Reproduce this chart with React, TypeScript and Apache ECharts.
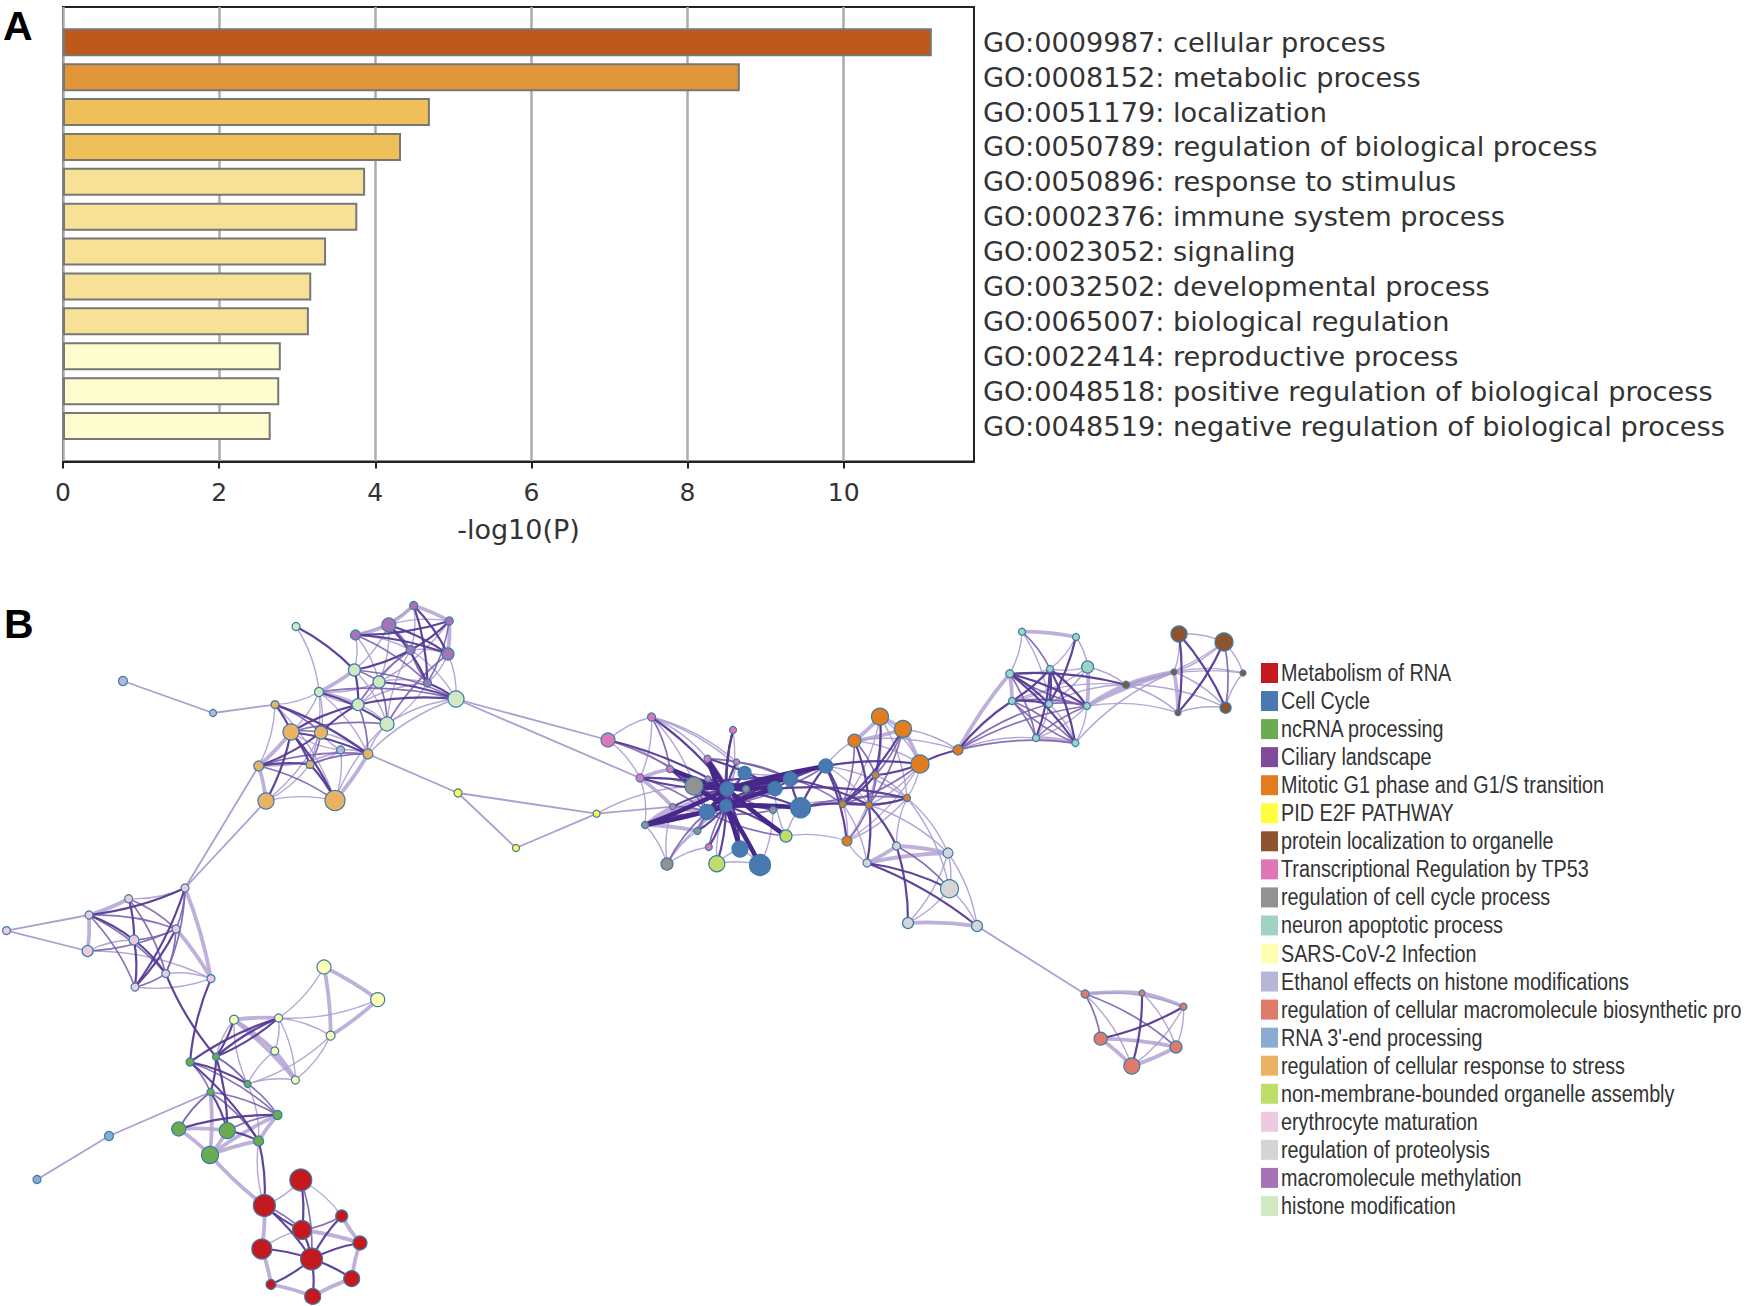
import React, { useEffect, useRef } from "react";
import * as echarts from "echarts";

const goTerms = [
  "GO:0009987: cellular process",
  "GO:0008152: metabolic process",
  "GO:0051179: localization",
  "GO:0050789: regulation of biological process",
  "GO:0050896: response to stimulus",
  "GO:0002376: immune system process",
  "GO:0023052: signaling",
  "GO:0032502: developmental process",
  "GO:0065007: biological regulation",
  "GO:0022414: reproductive process",
  "GO:0048518: positive regulation of biological process",
  "GO:0048519: negative regulation of biological process",
];
const goValues = [11.13, 8.67, 4.7, 4.33, 3.87, 3.77, 3.37, 3.18, 3.15, 2.79, 2.77, 2.66];
const goColors = ["#bd5a1b", "#e3953a", "#efc05a", "#efc05a", "#f6e196", "#f6e196", "#f6e196", "#f6e196", "#f6e196", "#fdfdd0", "#fdfdd0", "#fdfdd0"];
const xTicks = [0, 2, 4, 6, 8, 10];

const clusterNames = [
  "Metabolism of RNA", "Cell Cycle", "ncRNA processing", "Ciliary landscape",
  "Mitotic G1 phase and G1/S transition", "PID E2F PATHWAY", "protein localization to organelle",
  "Transcriptional Regulation by TP53", "regulation of cell cycle process", "neuron apoptotic process",
  "SARS-CoV-2 Infection", "Ethanol effects on histone modifications",
  "regulation of cellular macromolecule biosynthetic pro", "RNA 3'-end processing",
  "regulation of cellular response to stress", "non-membrane-bounded organelle assembly",
  "erythrocyte maturation", "regulation of proteolysis", "macromolecule methylation", "histone modification",
];
const clusterColors = [
  "#c4191e", "#4a78b0", "#6cab4f", "#7f4a9c", "#e37c1e", "#ffff40", "#8c5430", "#de76b8", "#929292", "#a1d3c5",
  "#ffffb3", "#b8b6d8", "#e07b6c", "#8aacd3", "#ecb264", "#bede67", "#efc9e0", "#d5d5d5", "#a674b4", "#d2e8c2",
];

// [x, y, diameter], per cluster (prefix, cluster index)
const redNodes = [[300.8,1180,22],[264.4,1205.5,22],[341.7,1216,12],[302,1230,19],[360,1243,14],[261.8,1249,20],[311.5,1259,22],[351.7,1278.6,16],[271,1284.5,10],[312.7,1296.4,16]];
const blueNodes = [[744.6,773,13],[727,789,14],[726,805.7,12],[707,812,15],[775,788.7,14],[790.4,779,14],[825.8,766,14],[800.5,807.7,20],[740,849,16],[760,865,21]];
const greenNodes = [[216,1056.7,7],[190,1062,8],[247.6,1084,7],[210.5,1092,7],[277.5,1115,9],[178.7,1129,14],[227.3,1130.6,16],[258.7,1141,10],[210,1155,17]];
const mitoticNodes = [[880,716.7,17],[903,729,17],[854.4,740.7,13],[920,764,18],[958,750,10],[875.5,775,7],[907,798,7],[842.6,804,7],[869,805,7],[847,841,10]];
const yellowNodes = [[458,793,8],[516,848,7],[596.6,813.7,7]];
const brownNodes = [[1179,634,16],[1224,642,18],[1126,684.7,7],[1174,672,6],[1178,712.7,6],[1225.6,707.7,11],[1243,673,6]];
const tp53Nodes = [[608,740,14],[651.5,717,8],[733,730,7],[707.5,758.7,7],[736.6,762,6],[670,769,7],[640,778,8],[708,779,6],[672.6,806.7,6],[708.8,847,7]];
const grayNodes = [[694,786,18],[746,789,7],[773,810,7],[645,825,7],[697.4,831,7],[667,864,12]];
const neuronNodes = [[1022,631.7,7],[1076,637,7],[1050,669,7],[1087.6,667,12],[1009.7,673.7,8],[1012,701,7],[1049,704,7],[1087,706,7],[1036,738,7],[1075.4,743,7]];
const sarsNodes = [[324,967,14],[377.7,999.6,14],[234,1019.7,9],[278.6,1018,8],[330.6,1035.7,9],[274.8,1051,8],[295.4,1080,8]];
const ethanolNodes = [[123,681,9],[213,713,7],[340.6,750,8]];
const biosynNodes = [[1085,994,8],[1142,993,6],[1183.5,1006.7,7],[1100.6,1038.7,13],[1176,1047,12],[1131.8,1066,16]];
const rna3Nodes = [[109,1136,9],[37,1179.5,8]];
const stressNodes = [[275,704.6,8],[291,732,16],[321,732.5,13],[258.7,766,10],[310,764.4,8],[368,754,10],[266,801,16],[335,800.5,20]];
const limeNodes = [[786,836,12],[716.8,863.7,16]];
const erythNodes = [[185,888,8],[128.6,898.7,8],[89,915,8],[6.5,930.6,8],[176,929,8],[134,940,10],[87.6,951,11],[165.7,973.6,8],[211,978.6,8],[135,987,8]];
const proteoNodes = [[896.5,846,8],[948,853,10],[867,863,8],[949.5,888.7,18],[908,923,11],[977,926,11]];
const methylNodes = [[413.7,605.5,8],[388.8,625,14],[449.3,621,8],[355.5,635,10],[410.6,650,9],[448,654,12],[427.5,683,8]];
const histoneNodes = [[296,626.5,8],[354.4,670,12],[379,682,12],[319,692,9],[358,704.6,12],[387,724,14],[456,699,16]];

const nodeGroups: [string, number, number[][]][] = [
  ["r", 0, redNodes], ["b", 1, blueNodes], ["g", 2, greenNodes], ["c", 4, mitoticNodes], ["y", 5, yellowNodes],
  ["w", 6, brownNodes], ["t", 7, tp53Nodes], ["a", 8, grayNodes], ["u", 9, neuronNodes], ["s", 10, sarsNodes],
  ["e", 11, ethanolNodes], ["f", 12, biosynNodes], ["n", 13, rna3Nodes], ["o", 14, stressNodes], ["l", 15, limeNodes],
  ["p", 16, erythNodes], ["d", 17, proteoNodes], ["m", 18, methylNodes], ["h", 19, histoneNodes],
];

const hubEdges = "b2-b9 b2-b8 b2-a0 b1-a3 b2-b4 l0-b1 b1-t5 b1-t3 b1-b4 b1-b6 b2-b3 b2-a3 b1-b3 b2-b7 b1-a0 b1-b5 b2-t3";
const darkEdges = "r1-r6 r3-r6 r5-r6 r6-r2 r6-r4 r6-r7 r6-r8 r6-r9 r3-r1 r0-r3 g0-g3 g1-g7 g1-g2 g0-g6 g3-g6 g5-g4 g6-g7 g1-s3 g0-s3 g0-p7 g1-p8 g7-r1 s2-g0 s3-g0 p0-p2 p0-p9 p1-p5 p2-p5 p4-p9 p5-p7 p5-p9 o0-o1 o1-o4 o1-o5 o1-o6 o0-o5 o2-o3 o3-o4 o4-o7 o1-o7 o2-h4 o1-h4 h0-h1 h3-h5 h1-h4 h2-h6 h4-h6 m0-m5 m0-m6 m1-m5 m1-m6 m2-m3 m2-m4 m3-m5 m4-h1 m6-h6 b1-t6 b1-b2 b1-b7 b1-t2 b1-b8 b1-t4 b2-t5 b2-b5 b2-b6 b2-l0 b2-l1 b2-t9 b2-a4 b2-t2 b2-a2 b2-b0 a0-b4 a0-b5 t5-a0 t8-b1 a3-b3 b3-b4 b3-b6 t3-b4 b5-b6 b4-b6 b7-b6 b7-b5 b9-b1 t0-b1 t1-b1 t6-b1 b6-c3 b6-c7 b6-c9 b4-c6 b7-c8 b5-c8 c0-c5 c2-c8 c1-c7 c3-c4 c3-c5 c5-c7 c6-c8 c4-u5 c8-d2 c8-d0 d2-d3 d2-d5 d0-d4 f1-f5 f2-f3 u1-u6 u2-u5 u2-u6 u2-u7 u2-u8 u2-u9 u4-u6 u4-u7 u4-u9 u5-u6 u4-w2 w0-w4 w1-w4 w0-w5";
const midEdges = "p0-p7 p0-p4 p2-p4 p4-p6 p7-p9 o2-o4 o3-o5 o3-o7 h1-h2 h2-h5 m3-m6 t1-t5 a5-b3 a4-b1 t9-b2 c3-c7 c5-c8 c7-c8 c6-c7 c8-c9 d0-d3 f0-f3 f0-f4 u0-u2 u5-u7 u5-u8 u6-u7 c4-u6 c4-u7 w1-w5 b0-b4 t4-b5 t3-b5 a2-b1 r1-r3 r2-r3 r0-r6 g0-g2 g1-g3 g3-g7 g1-g4 g3-g4 g2-g4 g6-g4 g5-g3 p2-p9 p1-p7 p4-p5 p1-p4 p2-p7 p4-p7 o1-o2 o4-o5 o0-o2 h4-o5 o1-h5 m1-m4 m2-m6 m6-m4 h1-h6 h3-h6 h4-m4 h5-m5 t3-b1 t7-b1 t5-b3 t8-b3 t6-b3 t0-b2 a0-b3 a1-b1 a1-b4 a2-b3 l0-b3 b3-b5 b3-b7 b6-b2 b5-c7 b7-c7 b7-c6 c1-c5 c1-c8 c2-c5 c2-c7 u4-u8 u5-u9 u7-u4 u9-u5 c4-u9 u8-u7";
const paleThickEdges = "r5-r8 r8-r9 r9-r7 r7-r4 r4-r2 r1-r5 r1-g8 r3-r4 g8-g4 g8-g7 g5-g8 g5-g6 g7-g4 s0-s1 s0-s4 s1-s4 s2-s3 s2-s5 s5-s6 s2-s6 p1-p2 p2-p6 p0-p8 o1-o3 o5-o7 h1-h3 m0-m1 m0-m2 m2-m5 t6-t5 a3-a4 a4-b3 c0-c1 c0-c2 c1-c2 c1-c3 d0-d2 d0-d1 d2-d1 d4-d5 f0-f1 f1-f2 f3-f4 f3-f5 f4-f5 u0-u1 u4-u5 u8-u9 u7-w2 w2-w3 w3-w4 c4-u4 g3-g8 g6-g8 p4-p8 h3-h4 o3-o6 m1-m3 t6-t8 a3-b1 a3-t8 b3-t8 u3-u7 u7-w3";
const paleThinEdges = "r0-r1 r0-r2 r5-r3 r1-g7 s0-s3 s1-s3 s3-s4 s4-s6 s4-g2 s3-s5 s3-s6 g2-s2 g2-s5 g2-s6 g0-s2 p0-p1 p8-p9 p6-p5 p6-p8 p7-p8 o6-o7 o2-o5 o2-o6 o5-h5 o7-h5 o5-h6 e2-o1 e2-o3 e2-o5 e2-o2 e2-o4 e2-o7 h3-o0 h3-o1 h3-o2 h3-o4 h4-h3 h0-h3 h2-h3 h1-h5 h4-h5 h2-h4 h5-h6 m0-m3 m1-m2 m3-m4 m4-m5 m5-m6 m5-h6 m0-m4 m2-h2 m4-h6 m3-h2 m3-h1 m6-h5 m1-h1 m1-h2 y2-a0 t0-t1 t0-t5 t0-t6 t1-t4 t1-t6 t6-a3 t6-a0 a3-a5 a5-a4 a5-t8 a5-t9 l1-b9 l1-b8 l0-b7 l0-c9 b8-b9 a2-b7 a2-b9 b6-c2 b6-c8 b6-c6 c0-c3 c2-c3 c2-c4 c1-c4 c3-c6 c5-c6 c7-c9 c6-c9 c4-u8 c6-d1 c6-d3 c7-d2 d1-d4 d1-d3 d3-d5 d3-d4 d1-d5 f0-f2 f0-f5 f2-f5 f1-f4 f2-f4 u0-u4 u1-u2 u2-u4 u3-u2 u3-u6 u6-u8 u6-u9 u7-u8 u7-u9 u6-w2 u5-w2 w0-w1 w1-w3 w2-w5 w3-w6 w4-w5 w2-w4 w2-w6 w0-w3 w1-w6 w5-w6 g0-g2 g2-g7 g5-g3 o0-o7 o4-o6 o0-o3 h3-o5 h2-m6 h4-m6 h5-m4 h2-m4 t1-t3 t1-a0 t1-b0 t2-b2 t4-b1 a4-b2 a5-b2 l0-b4 l1-b2 b0-b1 b6-b0 a2-c8 c0-c8 c3-c8 c0-c7 c3-c9 c5-c9 c0-c6 d0-c6 d2-c9 c8-d1 u1-u3 u3-u5 u0-u6 w3-w5 w1-w2 u3-w2 u9-w3 u7-w4";
const straightEdges = "h6-t0 h6-t6 e0-e1 n0-g3 o0-e1 d5-f0 o5-y0 y0-y2 y0-y1 y1-y2 y2-t8 o3-p0 o6-p0 n0-n1 p3-p2 p3-p6";

const edgeStyles: [string, any][] = [
  [paleThickEdges, { color: "#b6a9d6", width: 3.8, curveness: 0.05, opacity: 0.9 }],
  [paleThinEdges, { color: "#ab9dd0", width: 1.4, curveness: 0.12, opacity: 0.9 }],
  [straightEdges, { color: "#a999cf", width: 1.8, curveness: 0, opacity: 0.95 }],
  [midEdges, { color: "#7a62ad", width: 1.7, curveness: 0.1, opacity: 0.9 }],
  [darkEdges, { color: "#553a95", width: 2.2, curveness: 0.08, opacity: 0.95 }],
  [hubEdges, { color: "#47288a", width: 4.6, curveness: 0.03, opacity: 1 }],
];

const AXIS_MIN = 0;
const AXIS_MAX = 11.67;

function buildOption() {
  const nodes: any[] = [];
  nodeGroups.forEach(([prefix, cat, list]) => {
    list.forEach(([x, y, d], i) => {
      nodes.push({ name: prefix + i, value: [x, y], category: cat, symbolSize: d });
    });
  });
  const links: any[] = [];
  edgeStyles.forEach(([list, style]) => {
    list.split(" ").forEach((pair: string) => {
      const [source, target] = pair.split("-");
      links.push({ source, target, lineStyle: style });
    });
  });
  const frameLeft = 63;
  const frameWidth = 911;
  const legendLabels = clusterNames.map((text, i) => ({
    type: "text", x: 1281, y: 673.5 + i * 28.05, scaleX: 0.86, silent: true,
    style: { text, fontFamily: "Liberation Sans", fontSize: 23, fill: "#333", verticalAlign: "middle", align: "left" },
  }));
  return {
    animation: false,
    backgroundColor: "#ffffff",
    textStyle: { fontFamily: "DejaVu Sans" },
    grid: [
      { left: frameLeft, top: 7, width: frameWidth, height: 454.4, show: true, borderColor: "#222", borderWidth: 2, backgroundColor: "transparent" },
      { left: frameLeft, top: 24.85, width: frameWidth, height: 418.6 },
      { left: 0, top: 0, width: 1748, height: 1306 },
    ],
    xAxis: [
      {
        gridIndex: 0, type: "value", min: AXIS_MIN, max: AXIS_MAX, position: "bottom",
        name: "-log10(P)", nameLocation: "middle", nameGap: 55,
        nameTextStyle: { fontFamily: "DejaVu Sans", fontSize: 27, color: "#333" },
        axisLine: { show: true, lineStyle: { color: "#222", width: 2 } },
        axisTick: { show: true, length: 7, customValues: xTicks, lineStyle: { color: "#222", width: 2 } },
        axisLabel: { show: true, customValues: xTicks, margin: 19, fontFamily: "DejaVu Sans", fontSize: 25, color: "#333" },
        splitLine: { show: true, lineStyle: { color: "#ababab", width: 2.5 } },
      },
      { gridIndex: 1, type: "value", min: AXIS_MIN, max: AXIS_MAX, show: false },
      { gridIndex: 2, type: "value", min: 0, max: 1748, show: false },
    ],
    yAxis: [
      { gridIndex: 0, type: "value", min: 0, max: 1, show: false },
      {
        gridIndex: 1, type: "category", data: goTerms, inverse: true, position: "right",
        axisLine: { show: false }, axisTick: { show: false }, splitLine: { show: false },
        axisLabel: { interval: 0, margin: 9, padding: [2, 0, 0, 0], fontFamily: "DejaVu Sans", fontSize: 27.2, color: "#333" },
      },
      { gridIndex: 2, type: "value", min: 0, max: 1306, inverse: true, show: false },
    ],
    legend: {
      show: true, orient: "vertical", left: 1261, top: 663, padding: 0,
      itemWidth: 17, itemHeight: 20, itemGap: 8.05, icon: "rect", selectedMode: false,
      data: clusterNames,
      formatter: () => "",
      itemStyle: { borderWidth: 0 },
      textStyle: { fontSize: 10, color: "#333" },
    },
    graphic: [
      { type: "text", x: 3, y: 5, style: { text: "A", fontFamily: "Liberation Sans", fontWeight: "bold", fontSize: 41, fill: "#000" } },
      { type: "text", x: 4, y: 603, style: { text: "B", fontFamily: "Liberation Sans", fontWeight: "bold", fontSize: 41, fill: "#000" } },
      ...legendLabels,
    ],
    series: [
      {
        type: "bar", xAxisIndex: 1, yAxisIndex: 1, barWidth: 28, z: 3,
        data: goValues.map((v, i) => ({ value: v, itemStyle: { color: goColors[i], borderColor: "#777", borderWidth: 2 } })),
      },
      {
        type: "graph", coordinateSystem: "cartesian2d", xAxisIndex: 2, yAxisIndex: 2, layout: "none",
        roam: false, silent: true, symbol: "circle", z: 4,
        data: nodes, links,
        categories: clusterNames.map((name, i) => ({ name, itemStyle: { color: clusterColors[i], borderColor: "#3a7ca8", borderWidth: 1.2 } })),
        label: { show: false }, edgeLabel: { show: false },
      },
    ],
  };
}

export default function App() {
  const ref = useRef<HTMLDivElement>(null);
  useEffect(() => {
    document.body.style.margin = "0";
    const chart = echarts.init(ref.current!, undefined, { renderer: "svg" });
    chart.setOption(buildOption() as any);
    return () => chart.dispose();
  }, []);
  return <div ref={ref} style={{ width: 1748, height: 1306 }} />;
}
